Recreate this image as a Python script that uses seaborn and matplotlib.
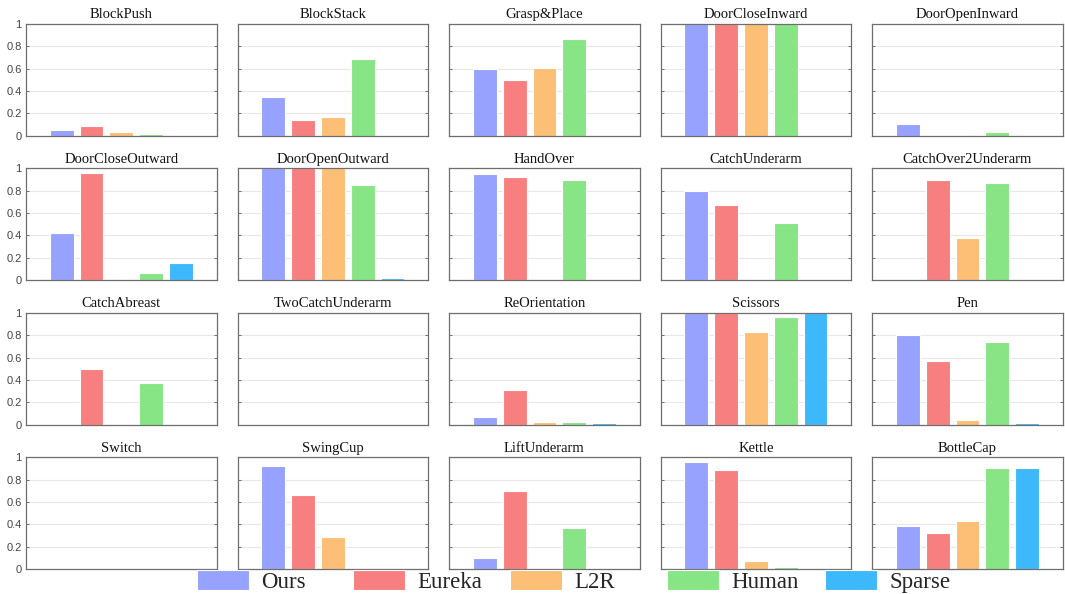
import numpy as np
import pandas as pd
import matplotlib
matplotlib.use("Agg")
import matplotlib.pyplot as plt
from matplotlib.patches import Patch
import seaborn as sns

# Success rates per task for each reward design
methods = ["Ours", "Eureka", "L2R", "Human", "Sparse"]
colors = ["#96a2fd", "#f77f7f", "#fdbe76", "#88e586", "#3db9fb"]

tasks = [
    "BlockPush", "BlockStack", "Grasp&Place", "DoorCloseInward", "DoorOpenInward",
    "DoorCloseOutward", "DoorOpenOutward", "HandOver", "CatchUnderarm", "CatchOver2Underarm",
    "CatchAbreast", "TwoCatchUnderarm", "ReOrientation", "Scissors", "Pen",
    "Switch", "SwingCup", "LiftUnderarm", "Kettle", "BottleCap",
]

ours   = [0.05, 0.35, 0.60, 1.00, 0.10, 0.42, 1.00, 0.95, 0.80, 0.00,
          0.00, 0.00, 0.07, 1.00, 0.80, 0.00, 0.92, 0.10, 0.96, 0.39]
eureka = [0.09, 0.14, 0.50, 1.00, 0.00, 0.96, 1.00, 0.92, 0.67, 0.90,
          0.50, 0.00, 0.31, 1.00, 0.57, 0.00, 0.66, 0.70, 0.89, 0.32]
l2r    = [0.03, 0.17, 0.61, 1.00, 0.00, 0.00, 1.00, 0.00, 0.00, 0.38,
          0.00, 0.00, 0.02, 0.83, 0.04, 0.00, 0.29, 0.00, 0.07, 0.43]
human  = [0.01, 0.69, 0.87, 1.00, 0.03, 0.06, 0.85, 0.90, 0.51, 0.87,
          0.37, 0.00, 0.02, 0.96, 0.74, 0.00, 0.00, 0.37, 0.02, 0.91]
sparse = [0.00, 0.00, 0.00, 0.00, 0.00, 0.15, 0.02, 0.00, 0.00, 0.00,
          0.00, 0.00, 0.01, 1.00, 0.01, 0.00, 0.00, 0.00, 0.00, 0.91]

yticks = [0, 0.2, 0.4, 0.6, 0.8, 1]
ytick_labels = ["0", "0.2", "0.4", "0.6", "0.8", "1"]

series = {"Ours": ours, "Eureka": eureka, "L2R": l2r, "Human": human, "Sparse": sparse}
df = pd.DataFrame(
    [(t, m, series[m][i]) for i, t in enumerate(tasks) for m in methods],
    columns=["task", "method", "rate"],
)

sns.set_theme(style="white")
serif = ["Liberation Serif", "DejaVu Serif"]
sans = ["Liberation Sans", "DejaVu Sans"]
plt.rcParams["font.family"] = sans

fig, axes = plt.subplots(4, 5, figsize=(10.65, 5.94), dpi=100)
fig.subplots_adjust(left=0.0244, right=0.998, top=0.9596, bottom=0.042,
                    wspace=0.109, hspace=0.295)

palette = dict(zip(methods, colors))
spine_col = "#6e6e6e"

for idx, (ax, task) in enumerate(zip(axes.flat, tasks)):
    sub = df[df["task"] == task]
    sns.barplot(data=sub, x="method", y="rate", hue="method", order=methods,
                hue_order=methods, palette=palette, saturation=1, width=0.8,
                legend=False, edgecolor="white", linewidth=0.8, ax=ax,
                errorbar=None)
    ax.set_xlim(-1.2, 5.2)
    ax.set_ylim(0, 1)
    ax.set_xlabel("")
    ax.set_ylabel("")
    ax.set_xticks([])
    ax.set_yticks(yticks)
    ax.yaxis.grid(True, color="#e8e8e8", linewidth=0.8)
    ax.set_axisbelow(True)
    ax.tick_params(axis="y", which="both", direction="in", length=2.5, width=0.7,
                   color=spine_col, left=True, right=True,
                   labelsize=8, labelcolor="#444444", pad=3)
    if idx % 5 == 0:
        ax.set_yticklabels(ytick_labels)
    else:
        ax.set_yticklabels([])
    for sp in ax.spines.values():
        sp.set_visible(True)
        sp.set_color(spine_col)
        sp.set_linewidth(0.9)
    ax.set_title(task, family=serif, fontsize=10.5, color="#111111", pad=4)

# Legend entries laid out on equal-width columns along the bottom edge
entry_x = [197, 353, 510, 667, 825]
for x, m, c in zip(entry_x, methods, colors):
    fig.legend([Patch(facecolor=c, edgecolor="white", linewidth=0.8)], [m],
               loc="center left", bbox_to_anchor=(x / 1065, 0.021),
               frameon=False, prop={"family": serif, "size": 16.5},
               handlelength=2.25, handleheight=0.95, handletextpad=0.55,
               borderpad=0.0, borderaxespad=0.0)

fig.savefig("out.png", dpi=100)
